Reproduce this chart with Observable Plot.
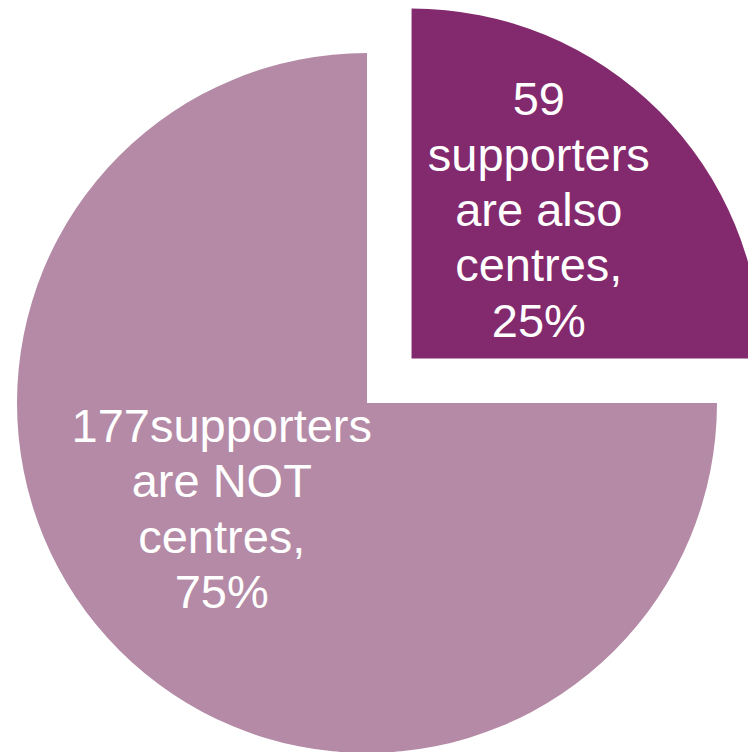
<!DOCTYPE html>
<html><head><meta charset="utf-8">
<script src="https://cdn.jsdelivr.net/npm/d3@7"></script>
<script src="https://cdn.jsdelivr.net/npm/@observablehq/plot@0.6"></script>
<style>body{margin:0;background:#fff}</style>
</head><body><div id="chart"></div>
<script>
const categories = ["also centres", "NOT centres"];
const counts = [59, 177];
const shares = [25, 75];
const labels = ["59\nsupporters\nare also\ncentres,\n25%", "177supporters\nare NOT\ncentres,\n75%"];
const colors = ["#83296D", "#B48AA6"];

const W = 748, H = 752;
const cx = 367, cy = 403, R = 350;
const explodeBy = [63, 0];

const data = categories.map((c, i) => ({category: c, count: counts[i], share: shares[i], label: labels[i], color: colors[i], explode: explodeBy[i]}));
const arcs = d3.pie().value(d => d.count).sort(null)(data);
const centroidArc = d3.arc().innerRadius(0).outerRadius(R);
arcs.forEach(a => {
  const mid = (a.startAngle + a.endAngle) / 2;
  a.ox = cx + Math.sin(mid) * a.data.explode;
  a.oy = cy - Math.cos(mid) * a.data.explode;
  const [lx, ly] = centroidArc.centroid(a);
  a.lx = a.ox + lx;
  a.ly = a.oy + ly;
});

function pieMark(index, scales, values, dimensions, context) {
  const g = d3.create("svg:g");
  const k = scales.x(1) - scales.x(0);
  const arc = d3.arc().innerRadius(0).outerRadius(R * k);
  g.selectAll("path").data(arcs).join("path")
    .attr("transform", a => `translate(${scales.x(a.ox)},${scales.y(a.oy)})`)
    .attr("d", arc)
    .attr("fill", a => a.data.color);
  return g.node();
}

const textOpts = {x: "lx", y: "ly", text: d => d.data.label, fill: "white", fontSize: 47, lineHeight: 1.18, fontFamily: "Liberation Sans, Arial, sans-serif"};

const chart = Plot.plot({
  width: W, height: H,
  margin: 0,
  x: {domain: [0, W], range: [0, W], axis: null},
  y: {domain: [0, H], range: [0, H], axis: null},
  marks: [
    pieMark,
    Plot.text(arcs.slice(0, 1), {...textOpts, dx: 3, dy: -27}),
    Plot.text(arcs.slice(1, 2), {...textOpts, dx: -22, dy: -20})
  ]
});
document.getElementById("chart").appendChild(chart);
</script>
</body></html>
